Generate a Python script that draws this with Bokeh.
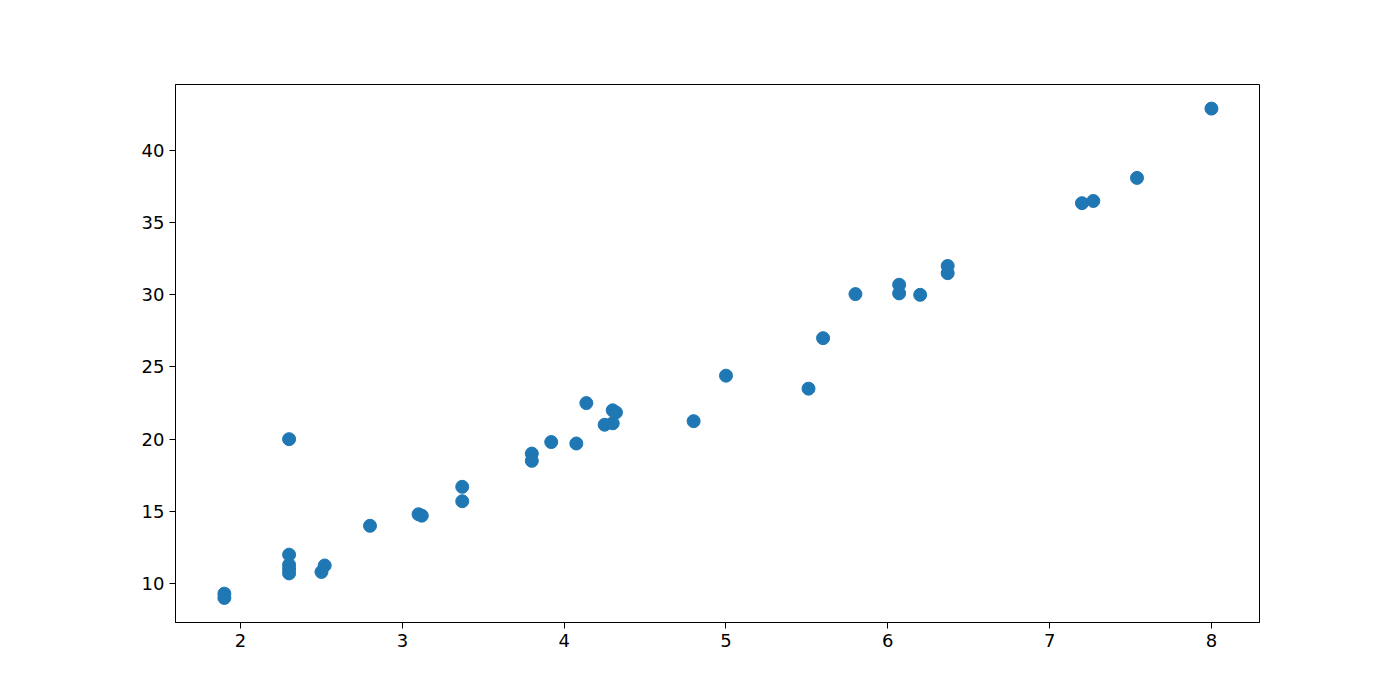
from bokeh.plotting import figure
from bokeh.models import Range1d, FixedTicker
from bokeh.embed import file_html
from bokeh.resources import INLINE

x_vals = [1.9, 1.9, 2.3, 2.3, 2.3, 2.3, 2.3, 2.5, 2.52, 2.8, 3.1, 3.12, 3.37, 3.37,
          3.8, 3.8, 3.92, 4.075, 4.137, 4.25, 4.3, 4.3, 4.32, 4.8, 5.0, 5.51, 5.6,
          5.8, 6.07, 6.07, 6.2, 6.37, 6.37, 7.2, 7.27, 7.54, 8.0]
y_vals = [9.3, 9.0, 20.0, 12.0, 11.3, 11.0, 10.7, 10.8, 11.25, 14.0, 14.8, 14.7, 16.7, 15.7,
          19.0, 18.5, 19.8, 19.7, 22.5, 21.0, 22.0, 21.1, 21.85, 21.25, 24.4, 23.5, 27.0,
          30.05, 30.7, 30.1, 30.0, 32.0, 31.5, 36.35, 36.5, 38.1, 42.9]
x_ticks = [2, 3, 4, 5, 6, 7, 8]
y_ticks = [10, 15, 20, 25, 30, 35, 40]

p = figure(width=1384, height=684, output_backend="svg", toolbar_location=None,
           x_range=Range1d(1.598, 8.297), y_range=Range1d(7.30, 44.57))
p.frame_width = 1084
p.frame_height = 538
p.min_border_left = 175
p.min_border_right = 125
p.min_border_top = 84
p.min_border_bottom = 62
p.background_fill_color = "white"
p.border_fill_color = "white"
p.outline_line_color = "black"
p.outline_line_width = 1
p.xgrid.visible = False
p.ygrid.visible = False

p.scatter(x_vals, y_vals, size=13, fill_color="#1f77b4", line_color="#1f77b4", line_width=1)

p.xaxis.ticker = FixedTicker(ticks=x_ticks)
p.yaxis.ticker = FixedTicker(ticks=y_ticks)
for ax in (p.xaxis, p.yaxis):
    ax.axis_line_color = "black"
    ax.major_tick_line_color = "black"
    ax.major_tick_out = 6
    ax.major_tick_in = 0
    ax.minor_tick_line_color = None
    ax.major_label_text_font = "DejaVu Sans"
    ax.major_label_text_font_size = "18px"
    ax.major_label_text_color = "black"
    ax.major_label_standoff = 5

open("out.html", "w").write(file_html(p, INLINE))
